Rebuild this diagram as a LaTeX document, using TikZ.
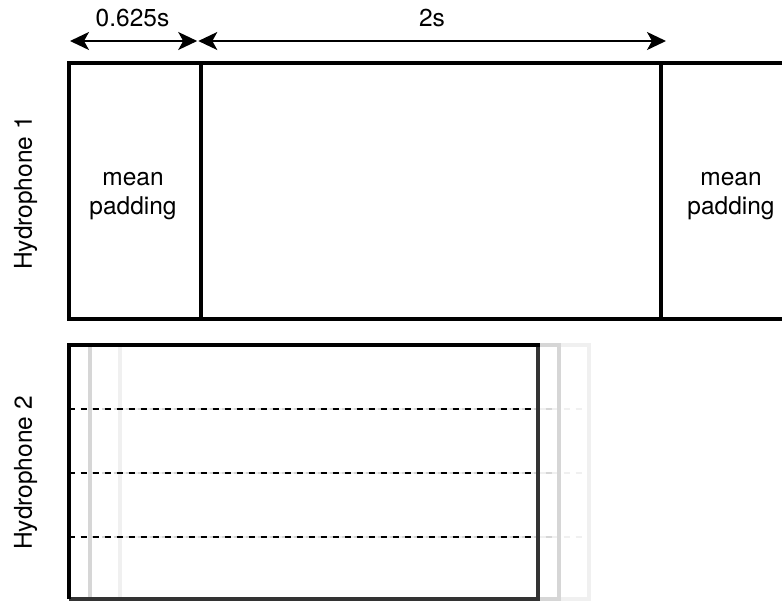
\documentclass[tikz,border=0pt]{standalone}
\usepackage{fontspec}
\setmainfont{TeX Gyre Heros}
\usetikzlibrary{arrows.meta}

\begin{document}
\begin{tikzpicture}[x=1pt, y=-1pt,
	frame/.style={line width=4pt},
	span/.style={{Stealth[length=19pt,width=18pt,inset=5pt]}-{Stealth[length=19pt,width=18pt,inset=5pt]}, line width=1.9pt},
	lbl/.style={font=\fontsize{24.5}{29}\selectfont, align=center, inner sep=0pt},
	slice/.style={dash pattern=on 6pt off 6pt, line width=1.9pt}]
			\useasboundingbox (0,0) rectangle (782,600);
			\clip (0,0) rectangle (782,600);
			% hydrophone 1
			\def\ttop{63}
			\def\tbot{318.7}
			\def\dA{200.5}
			\def\dB{661.3}
			\coordinate (TL) at (68.5,\ttop);
			\coordinate (BL) at (68.5,\tbot);
			\coordinate (TR) at (800,\ttop);
			\coordinate (BR) at (800,\tbot);
			\coordinate (D1t) at (\dA,\ttop);
			\coordinate (D1b) at (\dA,\tbot);
			\coordinate (D2t) at (\dB,\ttop);
			\coordinate (D2b) at (\dB,\tbot);
			\draw[frame] (TR) -- (TL) -- (BL) -- (BR);
			\draw[frame] (D1t) -- (D1b);
			\draw[frame] (D2t) -- (D2b);
			\node[lbl] (padL) at (133,196.5) {mean\\padding};
			\node[lbl] (padR) at (731,196.5) {mean\\padding};
			\node[lbl, rotate=90] (hyd1) at (25.5,193) {Hydrophone 1};
			
			% durations
			\coordinate (A0) at (70,41);
			\coordinate (A1) at (197.2,41);
			\coordinate (A2) at (198.3,41);
			\coordinate (A3) at (666,41);
			\draw[span] (A0) -- (A1);
			\draw[span] (A2) -- (A3);
			\node[lbl, anchor=base] (short) at (132.5,26.7) {0.625s};
			\node[lbl, anchor=base] (long) at (432,26.7) {2s};
			
			% hydrophone 2
			\def\btop{344.7}
			\def\bbot{599}
			\foreach \dx/\col in {51/black!6, 21/black!16}{
				\draw[frame, \col] (68.5+\dx,\btop) rectangle (537.5+\dx,\bbot);
				\foreach \yy in {409,473,537}
					\draw[slice, \col] (68.5+\dx,\yy) -- (537.5+\dx,\yy);
			}
			\coordinate (P1) at (68.5,\btop);
			\coordinate (P2) at (537.5,\btop);
			\coordinate (P3) at (537.5,\bbot);
			\coordinate (P4) at (68.5,\bbot);
			\foreach \yy in {409,473,537}
				\draw[slice] (68.5,\yy) -- (537.5,\yy);
			\draw[frame, black!80] (P2) -- (P3) -- (P4);
			\draw[frame] (P4) -- (P1) -- ([xshift=2pt]P2);
			\node[lbl, rotate=90] (hyd2) at (25.5,473) {Hydrophone 2};
		\end{tikzpicture}
\end{document}
